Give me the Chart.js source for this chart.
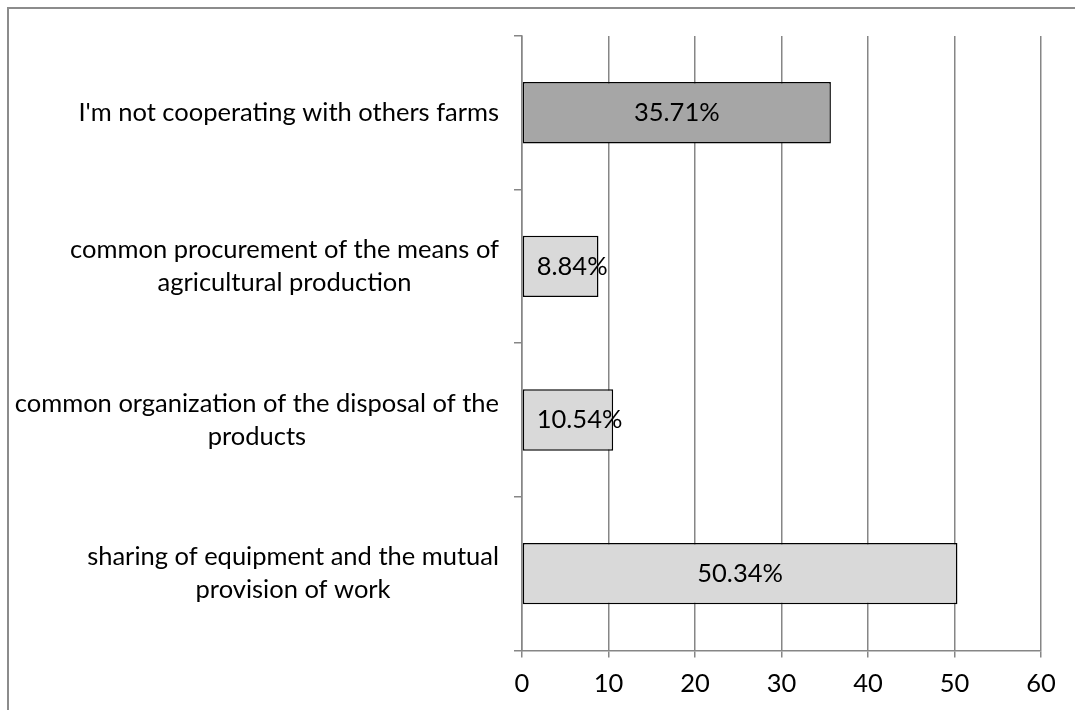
<!DOCTYPE html>
<html>
<head>
<meta charset="utf-8">
<script src="https://cdn.jsdelivr.net/npm/chart.js@4.4.0/dist/chart.umd.min.js"></script>
<style>
  html, body { margin: 0; padding: 0; background: #fff; overflow: hidden; }
  #frame { position: absolute; left: 7px; top: 7px; width: 1100px; height: 740px;
           border-left: 2px solid #8c8c8c; border-top: 2px solid #8c8c8c; }
  #wrap { position: absolute; left: 0; top: 0; width: 1075px; height: 710px; }
</style>
</head>
<body>
<div id="frame"></div>
<div id="wrap"><canvas id="c" width="1075" height="710"></canvas></div>
<script>
// Forms of cooperation with other farms (share of respondents, %)
const categories = [
  ["I'm not cooperating with others farms"],
  ["common procurement of the means of", "agricultural production"],
  ["common organization of the disposal of the", "products"],
  ["sharing of equipment and the mutual", "provision of work"]
];
const shares = [35.71, 8.84, 10.54, 50.34];
const barColors = ["#a6a6a6", "#d9d9d9", "#d9d9d9", "#d9d9d9"];
const xTicks = [0, 10, 20, 30, 40, 50, 60];

const FONT = "Lato, 'Open Sans', sans-serif";
const FONT_SIZE = 25.5;

// Category labels: each block right-aligned, its lines centred on each other
const categoryLabels = {
  id: "categoryLabels",
  afterDraw(chart) {
    const ctx = chart.ctx;
    const y = chart.scales.y;
    const right = chart.chartArea.left - 23;
    const lineH = 33;
    ctx.save();
    ctx.font = FONT_SIZE + "px " + FONT;
    ctx.fillStyle = "#000";
    ctx.textAlign = "center";
    ctx.textBaseline = "middle";
    categories.forEach((lines, i) => {
      const cy = y.getPixelForValue(i);
      const w = Math.max(...lines.map(l => ctx.measureText(l).width));
      const cx = right - w / 2;
      const y0 = cy - (lines.length - 1) * lineH / 2;
      lines.forEach((l, k) => ctx.fillText(l, cx, y0 + k * lineH));
    });
    ctx.restore();
  }
};

// Value labels inside the bars
const valueLabels = {
  id: "valueLabels",
  afterDatasetsDraw(chart) {
    const ctx = chart.ctx;
    const meta = chart.getDatasetMeta(0);
    ctx.save();
    ctx.font = FONT_SIZE + "px " + FONT;
    ctx.fillStyle = "#000";
    ctx.textAlign = "center";
    ctx.textBaseline = "middle";
    meta.data.forEach((bar, i) => {
      const txt = shares[i].toFixed(2) + "%";
      const w = ctx.measureText(txt).width;
      const mid = (bar.base + bar.x) / 2;
      const x = Math.max(mid, bar.base + 14 + w / 2);
      ctx.fillText(txt, x, bar.y);
    });
    ctx.restore();
  }
};

new Chart(document.getElementById("c"), {
  type: "bar",
  data: {
    labels: categories,
    datasets: [{
      data: shares,
      backgroundColor: barColors,
      borderColor: "#000",
      borderWidth: 1.5,
      borderSkipped: false,
      barPercentage: 0.4,
      categoryPercentage: 1.0
    }]
  },
  options: {
    indexAxis: "y",
    responsive: false,
    animation: false,
    devicePixelRatio: 1,
    layout: { padding: { left: 514, top: 36, right: 34, bottom: 0 } },
    plugins: { legend: { display: false }, tooltip: { enabled: false } },
    scales: {
      x: {
        min: 0, max: 60,
        afterBuildTicks(scale) { scale.ticks = xTicks.map(v => ({ value: v })); },
        grid: { color: "#868686", lineWidth: 1.5, tickLength: 7 },
        border: { color: "#868686", width: 1.5 },
        ticks: { color: "#000", font: { family: FONT, size: FONT_SIZE }, padding: 11 }
      },
      y: {
        grid: { color: "#868686", lineWidth: 1.5, drawOnChartArea: false, tickLength: 8, offset: true },
        border: { color: "#868686", width: 1.5 },
        ticks: { display: false }
      }
    }
  },
  plugins: [valueLabels, categoryLabels]
});
</script>
</body>
</html>
